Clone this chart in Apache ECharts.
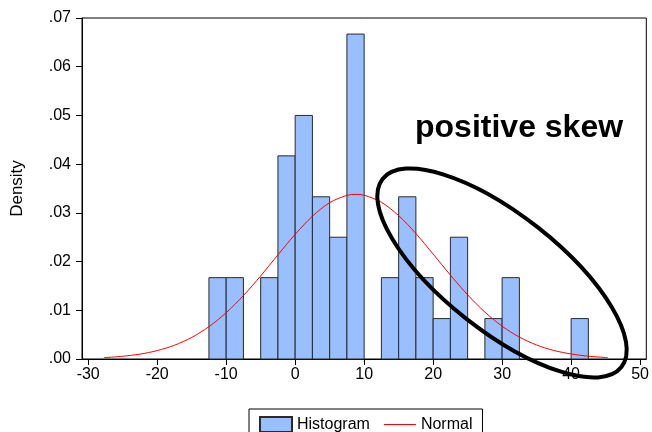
<!DOCTYPE html>
<html>
<head>
<meta charset="utf-8">
<script src="https://cdn.jsdelivr.net/npm/echarts@6/dist/echarts.min.js"></script>
<style>
  html, body { margin: 0; padding: 0; background: #ffffff; }
  #chart { width: 652px; height: 432px; }
</style>
</head>
<body>
<div id="chart"></div>
<script>
// Histogram bins (left edges) and their densities
const binStart = [-12.5, -10, -7.5, -5, -2.5, 0, 2.5, 5, 7.5, 10, 12.5, 15, 17.5, 20, 22.5, 25, 27.5, 30, 32.5, 35, 37.5, 40];
const binWidth = 2.5;
const density = [0.0167, 0.0167, 0, 0.0167, 0.0417, 0.05, 0.0333, 0.025, 0.0667, 0, 0.0167, 0.0333, 0.0167, 0.0083, 0.025, 0, 0.0083, 0.0167, 0, 0, 0, 0.0083];

// Fitted normal density curve
const normalX = [-27.7, -25, -22.5, -20, -17.5, -15, -12.5, -10, -7.5, -5, -2.5, 0, 2.5, 5, 7.5, 8.8, 10, 12.5, 15, 17.5, 20, 22.5, 25, 27.5, 30, 32.5, 35, 37.5, 40, 42.5, 45.3];
const normalY = [0.00028, 0.00056, 0.00100, 0.00172, 0.00282, 0.00442, 0.00663, 0.00950, 0.01302, 0.01706, 0.02137, 0.02560, 0.02931, 0.03209, 0.03360, 0.03380, 0.03363, 0.03218, 0.02944, 0.02576, 0.02154, 0.01723, 0.01317, 0.00963, 0.00673, 0.00450, 0.00287, 0.00175, 0.00103, 0.00057, 0.00028];

// Axis tick labels
const xTicks = [-30, -20, -10, 0, 10, 20, 30, 40, 50];

const FONT = '"Liberation Sans", Arial, Helvetica, sans-serif';

const histData = binStart.map((s, i) => [s, s + binWidth, density[i]]);
const normalData = normalX.map((x, i) => [x, normalY[i]]);

const chart = echarts.init(document.getElementById('chart'), null, { renderer: 'canvas' });

chart.setOption({
  animation: false,
  backgroundColor: '#ffffff',
  textStyle: { fontFamily: FONT, color: '#000' },
  grid: {
    left: 82, top: 18, right: 1, bottom: 73,
    show: true, borderColor: '#000', borderWidth: 1,
    containLabel: false
  },
  legend: {
    left: 249, top: 409,
    padding: [7, 10, 7, 10],
    borderColor: '#000', borderWidth: 1,
    itemWidth: 32, itemHeight: 15, itemGap: 14,
    textStyle: { fontFamily: FONT, fontSize: 16, color: '#000' },
    data: [
      { name: 'Histogram', icon: 'rect' },
      { name: 'Normal', icon: 'path://M0,0 H32 V1 H0 Z' }
    ]
  },
  xAxis: {
    type: 'value',
    min: -30.9, max: 50.9,
    axisLine: { show: true, onZero: false, lineStyle: { color: '#000', width: 1 } },
    axisTick: { show: true, length: 6, lineStyle: { color: '#000' }, customValues: xTicks },
    axisLabel: { fontFamily: FONT, fontSize: 16, color: '#000', margin: 8, customValues: xTicks },
    splitLine: { show: false }
  },
  yAxis: {
    type: 'value',
    min: 0, max: 0.07, interval: 0.01,
    name: 'Density',
    nameLocation: 'middle',
    nameGap: 56,
    nameTextStyle: { fontFamily: FONT, fontSize: 17, color: '#000' },
    axisLine: { show: true, onZero: false, lineStyle: { color: '#000', width: 1 } },
    axisTick: { show: true, length: 6, lineStyle: { color: '#000' } },
    axisLabel: {
      fontFamily: FONT, fontSize: 16, color: '#000', margin: 11,
      formatter: v => v.toFixed(2).replace(/^0/, '')
    },
    splitLine: { show: false }
  },
  series: [
    {
      name: 'Histogram',
      type: 'custom',
      data: histData,
      encode: { x: [0, 1], y: 2 },
      itemStyle: { color: '#99BFFF', borderColor: '#2a2a2a', borderWidth: 1 },
      renderItem: function (params, api) {
        const v = api.value(2);
        if (!v) return null;
        const p0 = api.coord([api.value(0), v]);
        const p1 = api.coord([api.value(1), 0]);
        return {
          type: 'rect',
          shape: { x: p0[0], y: p0[1], width: p1[0] - p0[0], height: p1[1] - p0[1] },
          style: api.style()
        };
      },
      z: 2
    },
    {
      name: 'Normal',
      type: 'line',
      data: normalData,
      smooth: 0.3,
      symbol: 'none',
      lineStyle: { color: '#ff0000', width: 1 },
      itemStyle: { color: '#ff0000' },
      z: 3
    }
  ],
  graphic: [
    {
      type: 'text',
      x: 415, y: 128,
      style: {
        text: 'positive skew',
        fontFamily: FONT, fontSize: 32, fontWeight: 'bold',
        fill: '#000', verticalAlign: 'middle', align: 'left'
      },
      z: 100
    },
    {
      type: 'ellipse',
      x: 502, y: 273,
      rotation: -0.667,
      shape: { cx: 0, cy: 0, rx: 152, ry: 58 },
      style: { fill: 'none', stroke: '#000', lineWidth: 4 },
      z: 100
    }
  ]
});
</script>
</body>
</html>
